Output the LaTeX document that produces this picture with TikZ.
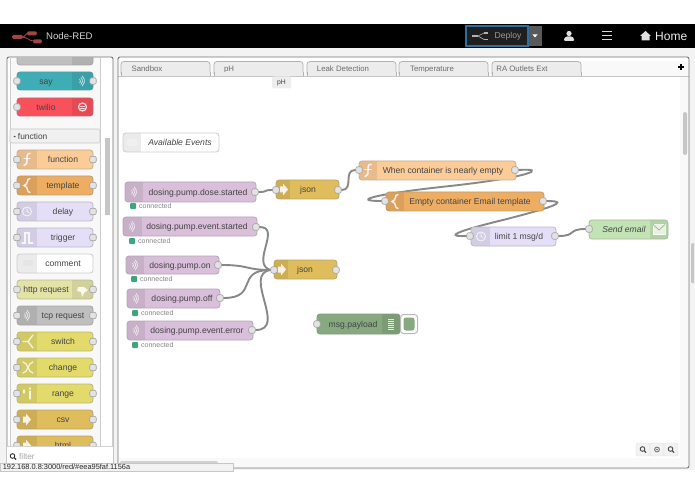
\documentclass[tikz,border=0pt]{standalone}
\usepackage{fontspec}
\setmainfont{Liberation Sans}
\definecolor{cFn}{HTML}{FBCB98}
\definecolor{cTpl}{HTML}{EDAE64}
\definecolor{cDel}{HTML}{E4DFF6}
\definecolor{cCom}{HTML}{FFFFFF}
\definecolor{cHttp}{HTML}{E3E3A6}
\definecolor{cTcp}{HTML}{BFBFBF}
\definecolor{cSw}{HTML}{E3DA6C}
\definecolor{cCsv}{HTML}{E0BD5C}
\definecolor{cMq}{HTML}{D9BFD9}
\definecolor{cDbg}{HTML}{87A980}
\definecolor{cMail}{HTML}{C2E3B4}
\definecolor{cSay}{HTML}{3FADB5}
\definecolor{cTw}{HTML}{F9515C}
\definecolor{cWire}{HTML}{888888}
\definecolor{cTxt}{HTML}{444444}
\definecolor{cPage}{HTML}{F3F3F3}
\definecolor{cGreen}{HTML}{3FA37F}
\definecolor{cLogo}{HTML}{A04444}
\definecolor{cDeploy}{HTML}{2F6FA0}
\pgfdeclarelayer{chrome}
\pgfdeclarelayer{wires}
\pgfsetlayers{chrome,wires,main}
\tikzset{
  nodebox/.style={draw=#1!60!gray,line width=.8pt,rounded corners=3pt,inner sep=0pt,text=cTxt,text height=7.5pt,text depth=1pt,font=\fontsize{8.6}{10}\selectfont},
  portbox/.style={draw=gray!75,fill=gray!22,line width=.6pt,rounded corners=2pt,minimum width=6.5pt,minimum height=6.5pt,inner sep=0pt},
  wire/.style={draw=cWire,line width=1.9pt,line cap=round},
  tabbox/.style={draw=gray!60,fill=gray!15,line width=.7pt,rounded corners=3pt,inner sep=0pt,text=gray!85!black,text height=7pt,text depth=1pt,font=\fontsize{7.8}{9}\selectfont},
  statusdot/.style={fill=cGreen,rounded corners=1pt,minimum width=6pt,minimum height=6pt,inner sep=0pt},
  statustxt/.style={text=gray!95,font=\fontsize{7}{8}\selectfont,inner sep=0pt,anchor=west},
  icon/.style={draw=white,line width=1pt,line cap=round,opacity=.8},
  iconfill/.style={fill=white,opacity=.85},
  barwhite/.style={text=white,inner sep=0pt},
}
% name x0 y0 x1 y1 divider colour textcentre label
\newcommand\flowbox[9]{%
  \pgfmathsetmacro\mymid{(#2+#4)/2}%
  \pgfmathsetmacro\myend{(#6<\mymid)?#2:#4}%
  \pgfmathsetmacro\myw{#4-#2}%
  \pgfmathsetmacro\myh{#5-#3}%
  \pgfmathsetmacro\mycy{(#3+#5)/2}%
  \pgfmathsetmacro\myl{max(2*(#8-\mymid),0)}%
  \pgfmathsetmacro\myr{max(-2*(#8-\mymid),0)}%
  \fill[#7,rounded corners=3pt] (#2,#3) rectangle (#4,#5);
  \begin{scope}
    \clip[rounded corners=3pt] (#2,#3) rectangle (#4,#5);
    \fill[#7!92!black] (\myend,#3) rectangle (#6,#5);
  \end{scope}
  \node[nodebox=#7,minimum width=\myw pt,minimum height=\myh pt] (#1) at (\mymid,\mycy) {\hspace*{\myl pt}#9\hspace*{\myr pt}};
}
\newcommand\portat[3]{\node[portbox] (#1) at (#2,#3) {};}
\newcommand\icoRadio[2]{\begin{scope}[shift={(#1,#2)}]
  \draw[icon,line width=.7pt] ({-4+2.5*cos(50)},{-2.5*sin(50)}) arc (-50:50:2.5);
  \draw[icon,line width=.7pt] ({-4+4.5*cos(50)},{-4.5*sin(50)}) arc (-50:50:4.5);
  \draw[icon,line width=.7pt] ({-4+6.5*cos(50)},{-6.5*sin(50)}) arc (-50:50:6.5);
  \end{scope}}
\newcommand\icoF[2]{\begin{scope}[shift={(#1,#2)}]
  \draw[icon,line width=1.6pt] (3,-6) .. controls (0,-7) and (0,-3) .. (0,0) .. controls (0,3) and (0,6) .. (-3,6);
  \draw[icon,line width=1.2pt] (-3,-1) -- (3,-1);
  \end{scope}}
\newcommand\icoBrace[2]{\begin{scope}[shift={(#1,#2)}]
  \draw[icon,line width=1.5pt] (3,-7) .. controls (-1,-7) and (2,-1) .. (-3,0) .. controls (2,1) and (-1,7) .. (3,7);
  \end{scope}}
\newcommand\icoClock[2]{\begin{scope}[shift={(#1,#2)}]
  \draw[icon,line width=.8pt] (0,0) circle (4.5);
  \draw[icon,line width=.7pt] (0,-3) -- (0,0) -- (2,1);
  \end{scope}}
\newcommand\icoArrow[2]{\fill[iconfill] (#1-3,#2-3) -- (#1,#2-3) -- (#1,#2-6) -- (#1+5,#2) -- (#1,#2+6) -- (#1,#2+3) -- (#1-3,#2+3) -- cycle;}
\newcommand\magni[3]{\draw[#3,line width=.9pt] (#1,#2) circle (2.3);\draw[#3,line width=1.2pt] (#1+1.7,#2+1.7) -- (#1+3.6,#2+3.6);}
\begin{document}
\begin{tikzpicture}[x=1pt,y=-1pt]
\useasboundingbox (0,0) rectangle (695,494);
\begin{pgfonlayer}{chrome}
  \fill[white] (0,0) rectangle (695,494);
  \fill[cPage] (0,48) rectangle (695,470);
  \fill[black] (0,24) rectangle (695,48);
  % palette frame
  \fill[white] (7,57) rectangle (113,468);
  \fill[cPage!60!white] (10,57) rectangle (100,446);
  \draw[gray!90!black,line width=.9pt] (7,468) -- (7,60) [rounded corners=2pt] -- (7,57) -- (113,57) -- (113,468);
  \fill[gray!45] (105,138) rectangle (110,215);
  \draw[gray!40,line width=.5pt] (10,57) -- (10,446) (100,57) -- (100,446);
  % workspace frame
  \fill[white] (118,57) rectangle (689,468);
  \fill[gray!5] (118,61) rectangle (689,76);
  \fill[gray!5] (680,76) rectangle (688,467);
  \fill[gray!5] (119,458) rectangle (688,467);
  \fill[gray!45,rounded corners=2pt] (683,112) rectangle (687,155);
  \fill[gray!35,rounded corners=2pt] (120,461) rectangle (218,467);
  \fill[gray!45,rounded corners=1pt] (691,243) rectangle (694,283);
  \draw[gray!45,line width=.7pt] (118,76) -- (689,76);
  \draw[gray!90!black,line width=.9pt,rounded corners=2pt] (118,57) rectangle (689,468);
\end{pgfonlayer}

% top bar
\draw[cLogo,line width=.8pt] (22,37) .. controls (26,37) and (25,33) .. (29,33) (22,37) .. controls (27,37) and (29,41) .. (34,41);
\fill[cLogo,rounded corners=1.5pt] (12,35) rectangle (23,39);
\fill[cLogo,rounded corners=1.5pt] (27,31.5) rectangle (37,35.5);
\fill[cLogo,rounded corners=1.5pt] (33,39.5) rectangle (42,43.5);
\node[barwhite,text=gray!35,font=\fontsize{9.6}{11}\selectfont,anchor=west] (brand) at (46,36) {Node-RED};
\fill[gray!70!black] (529,26) rectangle (542,46);
\fill[white] (532.5,34.5) -- (537.5,34.5) -- (535,37.5) -- cycle;
\node[draw=cDeploy,line width=1.2pt,fill=gray!24!black,minimum width=62pt,minimum height=20pt,inner sep=0pt,text=gray!80,font=\fontsize{8.6}{10}\selectfont] (deploy) at (497,36) {\hspace*{22pt}Deploy};
\draw[gray!60,line width=1.6pt] (472,36) -- (478,36) (484,33) -- (488,33) (484,39.5) -- (488,39.5);
\draw[gray!60,line width=.6pt] (478,36) -- (484,33) (478,36) -- (484,39.5);
\fill[white!88!black] (569,33.5) circle (2.6);
\fill[white!88!black,rounded corners=1pt] (564,41) -- (564,38.5) -- (566,36.5) -- (572,36.5) -- (574,38.5) -- (574,41) -- cycle;
\draw[white!85!black,line width=1.5pt] (602,31.5) -- (612,31.5) (602,35.5) -- (612,35.5) (602,39.5) -- (612,39.5);
\fill[white!88!black] (640,36) -- (645.5,31) -- (651,36) -- (649.5,36) -- (649.5,40.5) -- (641.5,40.5) -- (641.5,36) -- cycle;
\node[barwhite,text=white!92!black,font=\fontsize{12}{14}\selectfont,anchor=west] (home) at (655,36) {Home};

% tabs
\foreach \nm/\xa/\xb/\tx/\lbl in {tabA/121/210/147/Sandbox,tabB/214/303/229/pH,tabC/307/396/343/Leak Detection,tabD/399/488/432/Temperature,tabE/492/581/522/RA Outlets Ext}{
  \pgfmathsetmacro\cw{\xb-\xa}\pgfmathsetmacro\cm{(\xa+\xb)/2}\pgfmathsetmacro\cs{2*(\tx-\cm)}
  \pgfmathsetmacro\csl{max(\cs,0)}\pgfmathsetmacro\csr{max(-\cs,0)}
  \node[tabbox,minimum width=\cw pt,minimum height=15pt] (\nm) at (\cm,69) {\hspace*{\csl pt}\lbl\hspace*{\csr pt}};
  \fill[gray!15] (\xa,72.5) rectangle (\xb,76.5);
  \draw[gray!60,line width=.7pt] (\xa,72) -- (\xa,76.5) (\xb,72) -- (\xb,76.5);
}
\draw[gray!45,line width=.7pt] (119,76.5) -- (688,76.5);
\node[fill=gray!14,rounded corners=1.5pt,minimum width=19pt,minimum height=12pt,inner sep=0pt,text=cTxt,font=\fontsize{6.8}{8}\selectfont] (tooltip) at (281.5,82.5) {pH};
\draw[black,line width=1.4pt] (678,67) -- (684,67) (681,64) -- (681,70);

% palette
\begin{scope}
\clip (10,57.5) rectangle (100,446);
\flowbox{palTop}{17}{46}{93}{65}{72}{cTcp}{46}{}
\flowbox{palSay}{17}{72}{93}{90}{72}{cSay}{46}{say}
\flowbox{palTwilio}{17}{98}{93}{116}{72}{cTw}{46}{twilio}
\flowbox{palFunc}{17}{150}{93}{169}{37}{cFn}{63}{function}
\flowbox{palTpl}{17}{176}{93}{195}{37}{cTpl}{63}{template}
\flowbox{palDelay}{17}{202}{93}{221}{37}{cDel}{63}{delay}
\flowbox{palTrig}{17}{228}{93}{247}{37}{cDel}{63}{trigger}
\flowbox{palCom}{17}{254}{93}{273}{37}{cCom}{63}{comment}
\flowbox{palHttp}{17}{280}{93}{299}{72}{cHttp}{46}{http request}
\flowbox{palTcp}{17}{306}{93}{325}{37}{cTcp}{63}{tcp request}
\flowbox{palSw}{17}{332}{93}{351}{37}{cSw}{63}{switch}
\flowbox{palCh}{17}{358}{93}{377}{37}{cSw}{63}{change}
\flowbox{palRange}{17}{384}{93}{403}{37}{cSw}{63}{range}
\flowbox{palCsv}{17}{410}{93}{429}{37}{cCsv}{63}{csv}
\flowbox{palHtml}{17}{436}{93}{455}{37}{cCsv}{63}{html}
\icoRadio{82}{81}
\draw[icon,line width=1.2pt] (82.5,107) circle (4);
\draw[icon,line width=.7pt] (80.5,106) -- (84.5,106) (80.5,108) -- (84.5,108);
\icoF{27}{159.5}
\icoBrace{27}{185.5}
\icoClock{27}{211.5}
\draw[icon,line width=1.3pt] (22,243) -- (25,243) -- (25,233) -- (29,233) -- (29,243) -- (33,243);
\fill[gray!20,rounded corners=2pt] (23,260) rectangle (33,266);
\fill[iconfill] (78,287) -- (84,287) -- (88,290) -- (84,293) -- (82,297) -- (81,292) -- (77,291) -- cycle;
\icoRadio{27}{315.5}
\draw[icon,line width=1.3pt] (33,335) -- (28,341.5) -- (33,348) (23,341.5) -- (28,341.5);
\draw[icon,line width=1.2pt] (23,362) .. controls (28,362) and (28,373) .. (33,373) (23,373) .. controls (28,373) and (28,362) .. (33,362);
\draw[icon,line width=1.3pt] (24,390) -- (24,393) (30,388) -- (30,389) (30,391) -- (30,399);
\icoArrow{26}{419.5}
\icoArrow{26}{445.5}
\portat{pSayI}{17}{81}\portat{pSayO}{93}{81}
\portat{pTwI}{17}{107}
\portat{pFnI}{17}{159.5}\portat{pFnO}{93}{159.5}
\portat{pTpI}{17}{185.5}\portat{pTpO}{93}{185.5}
\portat{pDeI}{17}{211.5}\portat{pDeO}{93}{211.5}
\portat{pTrI}{17}{237.5}\portat{pTrO}{93}{237.5}
\portat{pHtI}{17}{289.5}\portat{pHtO}{93}{289.5}
\portat{pTcI}{17}{315.5}\portat{pTcO}{93}{315.5}
\portat{pSwI}{17}{341.5}\portat{pSwO}{93}{341.5}
\portat{pChI}{17}{367.5}\portat{pChO}{93}{367.5}
\portat{pRaI}{17}{393.5}\portat{pRaO}{93}{393.5}
\portat{pCsI}{17}{419.5}\portat{pCsO}{93}{419.5}
\portat{pHmI}{17}{445.5}\portat{pHmO}{93}{445.5}
\end{scope}
\node[draw=gray!45,fill=gray!12,line width=.6pt,rounded corners=1.5pt,minimum width=90pt,minimum height=14pt,inner sep=0pt,text=cTxt,font=\fontsize{8.4}{10}\selectfont] (cat) at (55,136) {\raisebox{.8pt}{\tikz[x=1pt,y=1pt]\fill (0,2.4) -- (4,2.4) -- (2,0) -- cycle;}\,function\hspace*{50pt}};
\fill[white] (7.4,446) rectangle (112.6,468);
\draw[gray!35,line width=.6pt] (7.4,446) -- (112.6,446);
\magni{12.5}{456}{black!80}
\node[text=gray!70,inner sep=0pt,anchor=west,font=\fontsize{8.2}{9}\selectfont] (filter) at (19,457) {filter};

% workspace nodes
\flowbox{avail}{123}{133}{219}{152}{141}{cCom}{180}{\textit{Available Events}}
\fill[gray!12,rounded corners=2pt] (127,139) rectangle (137,146);
\flowbox{doseStart}{125}{182}{256}{202}{143}{cMq}{198}{dosing.pump.dose.started}
\flowbox{evStart}{123}{217}{257}{236}{142}{cMq}{197}{dosing.pump.event.started}
\flowbox{pumpOn}{126}{256}{219}{274}{144}{cMq}{180}{dosing.pump.on}
\flowbox{pumpOff}{127}{289}{220}{308}{145}{cMq}{182}{dosing.pump.off}
\flowbox{evErr}{127}{321}{253}{340}{145}{cMq}{197}{dosing.pump.event.error}
\flowbox{jsonA}{276}{180}{339}{199}{290}{cCsv}{308}{json}
\flowbox{jsonB}{274}{260}{337}{279}{288}{cCsv}{305}{json}
\flowbox{fnNode}{359}{161}{516}{180}{377}{cFn}{443}{When container is nearly empty}
\flowbox{tplNode}{386}{192}{544}{211}{404}{cTpl}{470}{Empty container Email template}
\flowbox{limitNode}{471}{227}{556}{246}{490}{cDel}{519}{limit 1 msg/d}
\flowbox{mailNode}{589}{220}{668}{239}{650}{cMail}{624}{\textit{Send email}}
\flowbox{dbgNode}{317}{314}{400}{334}{382}{cDbg}{353}{msg.payload}
\node[draw=gray!55,fill=white,line width=1pt,rounded corners=3pt,minimum width=17pt,minimum height=19pt,inner sep=0pt] (dbgBtn) at (409,324) {};
\node[fill=cDbg,rounded corners=2.5pt,minimum width=11pt,minimum height=13pt,inner sep=0pt] (dbgBtnIn) at (409,324) {};
\draw[white,opacity=.8,line width=.9pt] (388,319.5) -- (394,319.5) (388,321.5) -- (394,321.5) (388,323.5) -- (394,323.5) (388,325.5) -- (394,325.5) (388,327.5) -- (394,327.5) (388,329.5) -- (394,329.5);
\icoRadio{134}{192}
\icoRadio{132}{226.5}
\icoRadio{135}{265}
\icoRadio{136}{298.5}
\icoRadio{136}{330.5}
\icoArrow{283}{189.5}
\icoArrow{281}{269.5}
\icoF{368}{170.5}
\icoBrace{395}{201.5}
\icoClock{481}{236.5}
\draw[icon,line width=.8pt,fill=white,fill opacity=.7] (653,224.5) rectangle (665,234.5);
\draw[cMail!80!black,line width=.7pt] (653,224.5) -- (659,230) -- (665,224.5);

% ports
\portat{outDose}{255}{192}
\portat{outEvStart}{256}{227}
\portat{outOn}{218}{265}
\portat{outOff}{220}{298}
\portat{outErr}{252}{330}
\portat{inJsonA}{276}{190}
\portat{outJsonA}{338}{190}
\portat{inJsonB}{274}{270}
\portat{outJsonB}{336}{270}
\portat{inFn}{359}{170}
\portat{outFn}{515}{170}
\portat{inTpl}{385}{201}
\portat{outTpl}{543}{201}
\portat{inLimit}{470}{236}
\portat{outLimit}{555}{236}
\portat{inMail}{589}{229}
\portat{inDbg}{317}{324}

% statuses
\foreach \nm/\xx/\yy in {a/133/206,b/132/241,c/134/279,d/135/313,e/135/345}{
  \node[statusdot] (dot\nm) at (\xx,\yy) {};
  \node[statustxt] (st\nm) at (\xx+6,\yy) {connected};
}

% zoom controls
\foreach \nm/\xx in {zA/643,zB/657,zC/671}{
  \node[draw=gray!25,fill=gray!10,rounded corners=1.5pt,minimum width=14pt,minimum height=13pt,inner sep=0pt] (\nm) at (\xx,449.5) {};
}
\magni{642.5}{449}{black!70}
\draw[gray!80!black,line width=.8pt] (657,449.5) circle (2.4);
\fill[gray!80!black] (657,449.5) circle (.9);
\magni{670.5}{449}{black!70}

% status bar
\node[draw=gray!45,fill=gray!10,line width=.6pt,minimum width=233pt,minimum height=8pt,inner sep=0pt,text=black!85,font=\fontsize{7.4}{8}\selectfont] (urlbar) at (116.5,467) {192.168.0.8:3000/red/\#eea95faf.1156a\hspace*{100pt}};

% wires
\begin{pgfonlayer}{wires}
\draw[wire] (outDose.east) .. controls +(10,0) and +(-10,0) .. (inJsonA.west);
\draw[wire] (outJsonA.east) .. controls +(13,0) and +(-13,0) .. (inFn.west);
\draw[wire] (outFn.east) .. controls (548,168) and (532,177) .. (450,186) .. controls (375,194) and (350,201) .. (inTpl.west);
\draw[wire] (outTpl.east) .. controls (574,201) and (545,209) .. (507,219) .. controls (470,228) and (438,237) .. (inLimit.west);
\draw[wire] (outLimit.east) .. controls +(18,0) and +(-18,0) .. (inMail.west);
\draw[wire] (outEvStart.east) .. controls (282,227) and (250,264) .. (inJsonB.west);
\draw[wire] (outOn.east) .. controls +(28,0) and +(-25,0) .. (inJsonB.west);
\draw[wire] (outOff.east) .. controls +(36,0) and +(-36,0) .. (inJsonB.west);
\draw[wire] (outErr.east) .. controls (288,330) and (242,274) .. (inJsonB.west);
\end{pgfonlayer}
\end{tikzpicture}
\end{document}
